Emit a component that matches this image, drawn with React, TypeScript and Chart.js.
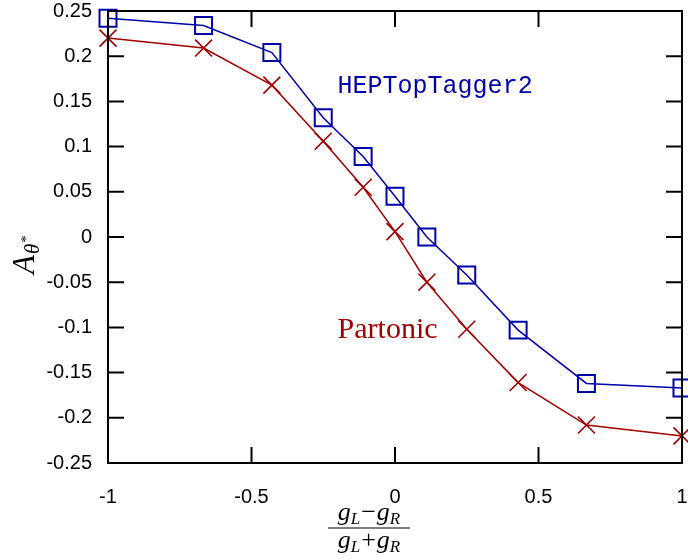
import { useEffect, useRef } from "react";
import { Chart, registerables } from "chart.js";

Chart.register(...registerables);

// x = (gL - gR) / (gL + gR)
const xValues = [-1, -0.667, -0.429, -0.25, -0.111, 0, 0.111, 0.25, 0.429, 0.667, 1];
const hepTopTaggerValues = [0.242, 0.234, 0.204, 0.132, 0.089, 0.045, 0.0, -0.042, -0.103, -0.162, -0.167];
const partonicValues = [0.22, 0.209, 0.168, 0.106, 0.055, 0.006, -0.05, -0.102, -0.161, -0.208, -0.22];

const xTickValues = [-1, -0.5, 0, 0.5, 1];
const yTickValues = [-0.25, -0.2, -0.15, -0.1, -0.05, 0, 0.05, 0.1, 0.15, 0.2, 0.25];

const seriesNames = ["HEPTopTagger2", "Partonic"];
const labelPositions = [
  { x: -0.2, y: 0.159 },
  { x: -0.2, y: -0.112 },
];

const BLUE = "#0000a8";
const RED = "#a00000";

const fmt = (v: number) => String(Number(v.toFixed(2)));

type Part = { t: string; font: string; dy: number; padL?: number; padR?: number };

function drawMath(ctx: CanvasRenderingContext2D, parts: Part[], cx: number, baseline: number) {
  let total = 0;
  const widths = parts.map((p) => {
    ctx.font = p.font;
    const w = ctx.measureText(p.t).width + (p.padL || 0) + (p.padR || 0);
    total += w;
    return w;
  });
  let x = cx - total / 2;
  parts.forEach((p, i) => {
    ctx.font = p.font;
    ctx.textAlign = "left";
    ctx.textBaseline = "alphabetic";
    ctx.fillText(p.t, x + (p.padL || 0), baseline + p.dy);
    x += widths[i];
  });
  return total;
}

const framePlugin = {
  id: "frameAndText",
  afterDatasetsDraw(chart: any) {
    const ctx: CanvasRenderingContext2D = chart.ctx;
    const { left, right, top, bottom } = chart.chartArea;
    const xs = chart.scales.x;
    const ys = chart.scales.y;
    ctx.save();
    ctx.strokeStyle = "#000";
    ctx.lineWidth = 2;
    ctx.strokeRect(left, top, right - left, bottom - top);
    const tl = 16;
    ctx.beginPath();
    yTickValues.forEach((v) => {
      const py = ys.getPixelForValue(v);
      ctx.moveTo(left, py);
      ctx.lineTo(left + tl, py);
      ctx.moveTo(right, py);
      ctx.lineTo(right - tl, py);
    });
    xTickValues.forEach((v) => {
      const px = xs.getPixelForValue(v);
      ctx.moveTo(px, bottom);
      ctx.lineTo(px, bottom - tl);
      ctx.moveTo(px, top);
      ctx.lineTo(px, top + tl);
    });
    ctx.stroke();

    // series labels
    ctx.textAlign = "left";
    ctx.textBaseline = "alphabetic";
    ctx.fillStyle = BLUE;
    ctx.font = "25px 'Liberation Mono'";
    ctx.fillText(seriesNames[0], xs.getPixelForValue(labelPositions[0].x), ys.getPixelForValue(labelPositions[0].y));
    ctx.fillStyle = RED;
    ctx.font = "30px 'Liberation Serif'";
    ctx.fillText(seriesNames[1], xs.getPixelForValue(labelPositions[1].x), ys.getPixelForValue(labelPositions[1].y));

    // x-axis title: fraction
    ctx.fillStyle = "#000";
    const it = "italic 26px 'Liberation Serif'";
    const sub = "italic 17px 'Liberation Serif'";
    const rm = "26px 'Liberation Serif'";
    const cx = left + 261;
    const numW = drawMath(
      ctx,
      [
        { t: "g", font: it, dy: 0 },
        { t: "L", font: sub, dy: 4 },
        { t: "\u2212", font: rm, dy: 0, padL: 1, padR: 1 },
        { t: "g", font: it, dy: 0 },
        { t: "R", font: sub, dy: 4 },
      ],
      cx,
      bottom + 57
    );
    drawMath(
      ctx,
      [
        { t: "g", font: it, dy: 0 },
        { t: "L", font: sub, dy: 4 },
        { t: "+", font: rm, dy: 0, padL: 1, padR: 1 },
        { t: "g", font: it, dy: 0 },
        { t: "R", font: sub, dy: 4 },
      ],
      cx,
      bottom + 85
    );
    ctx.lineWidth = 1.2;
    ctx.beginPath();
    const lw = Math.max(numW, 82);
    ctx.moveTo(cx - lw / 2, bottom + 65);
    ctx.lineTo(cx + lw / 2, bottom + 65);
    ctx.stroke();

    // y-axis title A_{theta*}
    ctx.save();
    ctx.translate(left - 74, top + 263);
    ctx.rotate(-Math.PI / 2);
    ctx.font = "italic 31px 'Liberation Serif'";
    ctx.fillText("A", 0, 0);
    const aw = ctx.measureText("A").width;
    ctx.font = "italic 21px 'Liberation Serif'";
    ctx.fillText("\u03b8", aw + 1, 5);
    const tw = ctx.measureText("\u03b8").width;
    ctx.font = "15px 'Liberation Serif'";
    ctx.fillText("*", aw + tw + 2, -3);
    ctx.restore();

    ctx.restore();
  },
};

export default function App() {
  const ref = useRef<HTMLCanvasElement | null>(null);
  useEffect(() => {
    if (!ref.current) return;
    const chart = new Chart(ref.current, {
      type: "scatter",
      data: {
        datasets: [
          {
            label: seriesNames[0],
            data: xValues.map((x, i) => ({ x, y: hepTopTaggerValues[i] })),
            showLine: true,
            borderColor: BLUE,
            borderWidth: 1.5,
            pointStyle: "rect",
            pointRadius: 12,
            pointHoverRadius: 12,
            pointBorderWidth: 2,
            pointBorderColor: BLUE,
            pointBackgroundColor: "rgba(0,0,0,0)",
            clip: false,
          } as any,
          {
            label: seriesNames[1],
            data: xValues.map((x, i) => ({ x, y: partonicValues[i] })),
            showLine: true,
            borderColor: RED,
            borderWidth: 1.5,
            pointStyle: "crossRot",
            pointRadius: 12,
            pointHoverRadius: 12,
            pointBorderWidth: 1.6,
            pointBorderColor: RED,
            pointBackgroundColor: "rgba(0,0,0,0)",
            clip: false,
          } as any,
        ],
      },
      options: {
        animation: false,
        responsive: true,
        maintainAspectRatio: false,
        layout: { autoPadding: false, padding: { top: 11, right: 6, left: 0, bottom: 0 } },
        plugins: { legend: { display: false }, tooltip: { enabled: false } },
        scales: {
          x: {
            type: "linear",
            min: -1,
            max: 1,
            grid: { display: false, drawTicks: false },
            border: { display: false },
            afterBuildTicks: (s: any) => {
              s.ticks = xTickValues.map((v) => ({ value: v }));
            },
            afterFit: (s: any) => {
              s.height = 97;
              s.paddingLeft = 0;
              s.paddingRight = 0;
              s.paddingTop = 0;
              s.paddingBottom = 0;
            },
            ticks: {
              color: "#000",
              font: { family: "'Liberation Sans'", size: 20 },
              padding: 22,
              maxRotation: 0,
              autoSkip: false,
              callback: (v: any) => fmt(Number(v)),
            },
          },
          y: {
            type: "linear",
            min: -0.25,
            max: 0.25,
            grid: { display: false, drawTicks: false },
            border: { display: false },
            afterBuildTicks: (s: any) => {
              s.ticks = yTickValues.map((v) => ({ value: v }));
            },
            afterFit: (s: any) => {
              s.width = 108;
              s.paddingLeft = 0;
              s.paddingRight = 0;
              s.paddingTop = 0;
              s.paddingBottom = 0;
            },
            ticks: {
              color: "#000",
              font: { family: "'Liberation Sans'", size: 20 },
              padding: 16,
              autoSkip: false,
              callback: (v: any) => fmt(Number(v)),
            },
          },
        },
      },
      plugins: [framePlugin],
    });
    return () => chart.destroy();
  }, []);
  return (
    <div style={{ position: "fixed", left: 0, top: 0, width: 688, height: 560, background: "#fff" }}>
      <canvas ref={ref} />
    </div>
  );
}
